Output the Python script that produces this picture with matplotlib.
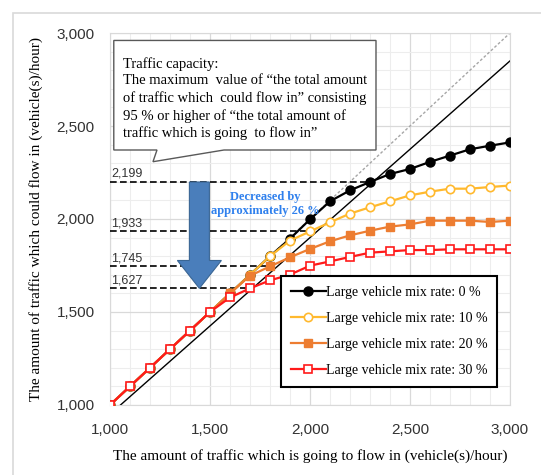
import numpy as np
import matplotlib.pyplot as plt
from matplotlib.patches import Polygon, FancyArrow, Rectangle
from matplotlib.ticker import MultipleLocator, FuncFormatter

plt.rc('font', family='Liberation Serif')

# ---- data ----
inflow = [1000, 1100, 1200, 1300, 1400, 1500, 1600, 1700, 1800, 1900, 2000,
          2100, 2200, 2300, 2400, 2500, 2600, 2700, 2800, 2900, 3000]
mix_0 = [1000, 1100, 1200, 1300, 1400, 1500, 1600, 1700, 1800, 1894, 1998,
         2095, 2154, 2199, 2242, 2269, 2307, 2341, 2375, 2394, 2412]
mix_10 = [1000, 1100, 1200, 1300, 1400, 1500, 1600, 1700, 1800, 1884, 1933,
          1982, 2029, 2063, 2095, 2127, 2147, 2163, 2163, 2172, 2180]
mix_20 = [1000, 1100, 1200, 1300, 1400, 1500, 1600, 1695, 1745, 1794, 1839,
          1880, 1912, 1937, 1959, 1971, 1991, 1991, 1991, 1984, 1991]
mix_30 = [1000, 1100, 1200, 1300, 1400, 1500, 1578, 1627, 1670, 1701, 1749,
          1772, 1796, 1819, 1826, 1833, 1833, 1837, 1837, 1837, 1837]

capacities = [2199, 1933, 1745, 1627]       # traffic capacity of each series
capacity_x = [2300, 2000, 1800, 1700]       # inflow where it is reached
ratio = 0.95

fig = plt.figure(figsize=(5.41, 4.75), dpi=100)
ax = fig.add_axes([0.2033, 0.1474, 0.7394, 0.7831])

# outer chart border
fig.patches.append(Rectangle((13 / 541, -0.1), 1.2, (475 - 13.5) / 475 + 0.1,
                             transform=fig.transFigure, fill=False,
                             edgecolor='#D9D9D9', lw=1.2))

ax.set_xlim(1000, 3000)
ax.set_ylim(1000, 3000)
ax.xaxis.set_major_locator(MultipleLocator(500))
ax.yaxis.set_major_locator(MultipleLocator(500))
ax.xaxis.set_minor_locator(MultipleLocator(100))
ax.yaxis.set_minor_locator(MultipleLocator(100))
ax.grid(which='major', color='#D9D9D9', lw=0.9)
ax.grid(which='minor', color='#EDEDED', lw=0.8)
ax.set_axisbelow(True)
for s in ax.spines.values():
    s.set_color('#D9D9D9')
fmt = FuncFormatter(lambda v, p: '{:,.0f}'.format(v))
ax.xaxis.set_major_formatter(fmt)
ax.yaxis.set_major_formatter(fmt)
ax.tick_params(which='both', length=0)
ax.tick_params(axis='x', pad=13)
ax.tick_params(axis='y', pad=11)
for lab in ax.get_xticklabels() + ax.get_yticklabels():
    lab.set_family('Liberation Sans')
    lab.set_fontsize(11)
    lab.set_color('#333333')

# reference lines: y = x and 95 %
ax.plot([inflow[0], inflow[-1]], [inflow[0], inflow[-1]], color='#A6A6A6',
        lw=1, ls=(0, (2, 1.5)), zorder=2)
ax.plot([inflow[0] / ratio, inflow[-1]], [inflow[0], inflow[-1] * ratio],
        color='black', lw=1, zorder=2)

# dashed capacity lines and labels
for c, cx in zip(capacities, capacity_x):
    ax.plot([1000, cx], [c, c], color='black', lw=1.2, ls=(0, (4, 2)), zorder=3)
    ax.text(1005, c + 12, '{:,}'.format(c), family='Liberation Sans',
            fontsize=9, color='#333333', ha='left', va='bottom', zorder=3)

# series
ax.plot(inflow, mix_0, color='black', lw=1.6, marker='o', ms=6.5,
        label='Large vehicle mix rate: 0 %', zorder=6)
ax.plot(inflow, mix_10, color='#FFB92E', lw=1.6, marker='o', ms=6,
        mfc='white', mec='#FFB92E', mew=1.2,
        label='Large vehicle mix rate: 10 %', zorder=6)
ax.plot(inflow, mix_20, color='#ED7D31', lw=1.6, marker='s', ms=6,
        label='Large vehicle mix rate: 20 %', zorder=6)
ax.plot(inflow, mix_30, color='#FF1A1A', lw=1.6, marker='s', ms=6,
        mfc='white', mec='#FF1A1A', mew=1.2,
        label='Large vehicle mix rate: 30 %', zorder=6)

# arrow for the drop in capacity
arr = FancyArrow(1447, capacities[0], 0, capacities[-1] - capacities[0],
                 width=100, head_width=220, head_length=150,
                 length_includes_head=True, facecolor='#4A7EBB',
                 edgecolor='#3A6694', lw=0.8, zorder=7)
ax.add_patch(arr)
ax.text(1775, 2080, 'Decreased by\napproximately 26 %', color='#2F80ED',
        fontsize=9, fontweight='bold', ha='center', va='center',
        linespacing=1.15, zorder=7)

# callout box
callout = Polygon([(1019, 2960), (2330, 2960), (2330, 2371), (1570, 2371),
                   (1215, 2308), (1235, 2371), (1019, 2371)], closed=True,
                  facecolor='white', edgecolor='#595959', lw=1, zorder=8)
ax.add_patch(callout)
lines = ['Traffic capacity:',
         'The maximum  value of \u201cthe total amount',
         'of traffic which  could flow in\u201d consisting',
         '95 % or higher of \u201cthe total amount of',
         'traffic which is going  to flow in\u201d']
line_y = [2834, 2747, 2651, 2554, 2463]
for t, yy in zip(lines, line_y):
    ax.text(1065, yy, t, fontsize=10.5, ha='left', va='center', zorder=9)

leg = ax.legend(loc='lower right', bbox_to_anchor=(0.985, 0.03), fontsize=10,
                handlelength=2.5, handletextpad=0.0, labelspacing=0.95,
                borderpad=0.7, fancybox=False, framealpha=1,
                edgecolor='black')
leg.get_frame().set_linewidth(1.5)
leg.set_zorder(10)

ax.set_xlabel('The amount of traffic which is going to flow in (vehicle(s)/hour)',
              fontsize=11, labelpad=9)
ax.set_ylabel('The amount of traffic which could flow in (vehicle(s)/hour)',
              fontsize=11, labelpad=10)

fig.savefig('out.png', dpi=100)
